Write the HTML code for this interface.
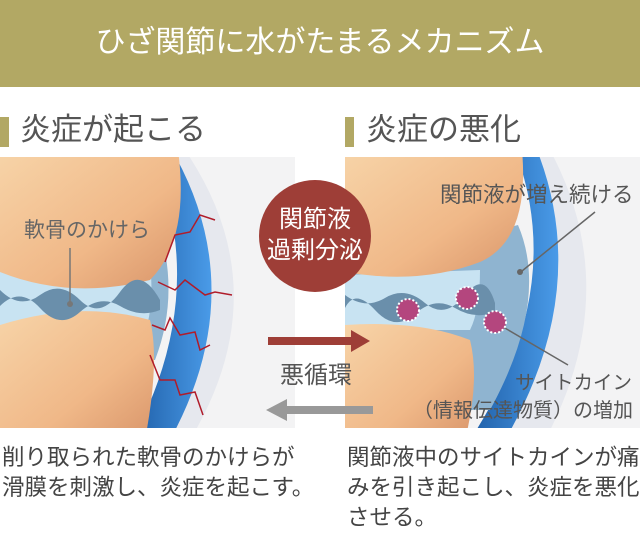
<!DOCTYPE html>
<html><head><meta charset="utf-8"><style>
html,body{margin:0;padding:0;background:#fff;}
body{width:640px;height:534px;position:relative;overflow:hidden;font-family:"Liberation Sans","Noto Sans CJK JP",sans-serif;}
.t{position:absolute;white-space:nowrap;}
</style></head><body>
<div style="position:absolute;left:0;top:0;width:640px;height:87px;background:#b2a864;"></div>
<div class="t" style="left:0;width:640px;top:24px;text-align:center;color:#fff;font-size:30px;line-height:38px;">ひざ関節に水がたまるメカニズム</div>
<div style="position:absolute;left:0;top:117px;width:9px;height:30px;background:#b2a864;"></div>
<div style="position:absolute;left:345px;top:117px;width:9px;height:30px;background:#b2a864;"></div>
<div class="t" style="left:20px;top:111px;font-size:31px;line-height:38px;color:#555;">炎症が起こる</div>
<div class="t" style="left:366px;top:111px;font-size:31px;line-height:38px;color:#555;">炎症の悪化</div>
<svg style="position:absolute;left:0;top:0" width="640" height="534">
<defs>
<linearGradient id="bone" x1="0" y1="0" x2="1" y2="1"><stop offset="0" stop-color="#f7d4a8"/><stop offset="0.6" stop-color="#f0b888"/><stop offset="1" stop-color="#d9956a"/></linearGradient>
<linearGradient id="cap" x1="0" y1="0" x2="1" y2="0"><stop offset="0" stop-color="#1f5fa8"/><stop offset="1" stop-color="#4a9be8"/></linearGradient>
<clipPath id="cl"><rect x="0" y="157" width="295" height="271"/></clipPath>
<clipPath id="cr"><rect x="345" y="157" width="295" height="271"/></clipPath>
</defs>
<g clip-path="url(#cl)">
<rect x="0" y="157" width="295" height="271" fill="#f3f3f4"/>
<path d="M150,150 Q228,290 140,440 L190,440 Q280,290 185,150Z" fill="#e6e8ee"/>
<path d="M150,150 Q212,290 132,440 L170,440 Q252,290 172,150Z" fill="url(#cap)"/>
<path d="M0,255 L160,255 Q170,290 145,330 L0,330Z" fill="#c8e3f2"/>
<path d="M135,215 Q168,290 135,360 L155,360 Q182,290 155,215Z" fill="#8fb4d0"/>
<path d="M0,150 L178,150 Q190,240 150,280 Q70,300 0,272Z" fill="url(#bone)"/>
<path d="M0,325 Q80,300 150,320 Q160,360 145,440 L0,440Z" fill="url(#bone)"/>
<path d="M0,290 Q20,310 40,295 T80,300 T120,292 T160,300 L160,310 Q140,318 120,306 T80,312 T40,308 T0,306Z" fill="#6a8fab"/>
<polyline points="165,262 175,235 190,232 200,215 215,220" fill="none" stroke="#b01c2a" stroke-width="1.5"/>
<polyline points="158,282 175,290 185,280 205,295 215,292 232,295" fill="none" stroke="#b01c2a" stroke-width="1.5"/>
<polyline points="152,325 165,330 170,318 180,335 195,332 200,350 210,345" fill="none" stroke="#b01c2a" stroke-width="1.5"/>
<polyline points="150,355 160,380 175,380 180,395 195,392 203,415" fill="none" stroke="#b01c2a" stroke-width="1.5"/>
<line x1="70" y1="248" x2="70" y2="302" stroke="#777" stroke-width="1.5"/><circle cx="70" cy="304" r="3" fill="#777"/>
</g>
<g clip-path="url(#cr)">
<rect x="345" y="157" width="295" height="271" fill="#f3f3f4"/>
<path d="M510,150 Q585,290 480,440 L545,440 Q625,290 550,150Z" fill="#e6e8ee"/>
<path d="M515,150 Q568,290 470,440 L505,440 Q592,290 537,150Z" fill="url(#cap)"/>
<path d="M345,270 L518,225 Q550,300 490,410 L460,410 Q470,330 345,330Z" fill="#8fb4d0"/>
<path d="M345,275 L480,270 Q480,310 470,330 L345,330Z" fill="#c8e3f2"/>
<path d="M345,150 L522,150 Q530,240 480,262 Q420,285 345,272Z" fill="url(#bone)"/>
<path d="M345,325 Q420,320 470,340 Q480,380 465,440 L345,440Z" fill="url(#bone)"/>
<path d="M345,295 Q365,310 385,298 T425,303 T465,295 T495,303 L495,312 Q475,320 455,308 T415,314 T375,310 T345,308Z" fill="#6a8fab"/>
<line x1="522" y1="271" x2="595" y2="212" stroke="#666" stroke-width="1.5"/><circle cx="520" cy="272" r="3" fill="#666"/>
<line x1="498" y1="324" x2="568" y2="365" stroke="#666" stroke-width="1.5"/>
<g fill="#b4467e" stroke="#fff" stroke-width="2" stroke-dasharray="2 2">
<circle cx="408" cy="310" r="11"/><circle cx="467" cy="298" r="11"/><circle cx="495" cy="322" r="11"/></g>
</g>
<circle cx="315" cy="236" r="56" fill="#9e3e37"/>
<rect x="268" y="337" width="85" height="8" fill="#9e3e37"/><polygon points="351,330 370,341 351,352" fill="#9e3e37"/>
<rect x="285" y="406" width="88" height="8" fill="#999"/><polygon points="287,399 266,410 287,421" fill="#999"/>
</svg>
<div class="t" style="left:259px;top:204px;width:112px;text-align:center;color:#fff;font-size:24px;line-height:31px;">関節液<br>過剰分泌</div>
<div class="t" style="left:280px;top:361px;font-size:24px;color:#555;line-height:30px;">悪循環</div>
<div class="t" style="left:24px;top:214px;font-size:21px;color:#666;">軟骨のかけら</div>
<div class="t" style="left:440px;top:178px;font-size:21.5px;color:#555;">関節液が増え続ける</div>
<div class="t" style="left:515px;top:366px;font-size:19.5px;color:#555;">サイトカイン</div>
<div class="t" style="left:413px;top:394px;font-size:20px;color:#555;">（情報伝達物質）の増加</div>
<div class="t" style="left:2px;top:443px;font-size:22.5px;line-height:30px;color:#444;">削り取られた軟骨のかけらが<br>滑膜を刺激し、炎症を起こす。</div>
<div class="t" style="left:347px;top:443px;font-size:22.5px;line-height:30px;color:#444;">関節液中のサイトカインが痛<br>みを引き起こし、炎症を悪化<br>させる。</div>
</body></html>
